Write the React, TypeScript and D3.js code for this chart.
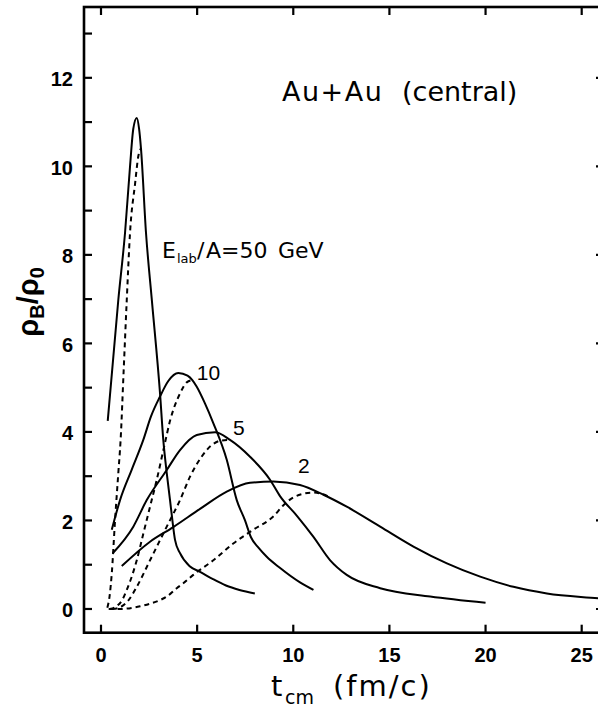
import React from "react";
import * as d3 from "d3";

type P = [number, number];

const xTicks = [0, 5, 10, 15, 20, 25];
const yLeftTicks = [0, 1, 2, 3, 4, 5, 6, 7, 8, 9, 10, 11, 12, 13];
const yLabelTicks = [0, 2, 4, 6, 8, 10, 12];

// E_lab/A = 50 GeV
const solid50: P[] = [
  [0.35, 4.25], [0.9, 6.98], [1.25, 8.5], [1.51, 10.0], [1.68, 10.85], [1.86, 11.09],
  [1.98, 10.85], [2.08, 10.4], [2.34, 8.5], [2.64, 7.0], [3.07, 4.87], [3.24, 3.82],
  [3.42, 3.07], [3.59, 2.46], [3.7, 2.05], [3.85, 1.56], [4.11, 1.26], [4.63, 0.96],
  [5.15, 0.84], [5.8, 0.68], [6.5, 0.53], [7.2, 0.43], [8.0, 0.35],
];
const dashed50: P[] = [
  [0.33, 0.03], [0.45, 0.3], [0.56, 0.8], [0.73, 2.0], [0.9, 3.07], [1.02, 3.82],
  [1.18, 5.4], [1.34, 6.98], [1.51, 8.5], [1.77, 9.6], [1.95, 10.25], [2.08, 10.4],
];

// 10 GeV
const solid10: P[] = [
  [0.56, 1.79], [0.99, 2.46], [1.6, 3.15], [2.2, 3.82], [2.6, 4.35], [3.07, 4.8],
  [3.5, 5.15], [4.02, 5.33], [4.5, 5.27], [4.75, 5.17], [4.98, 5.02], [5.4, 4.65],
  [5.84, 4.2], [6.54, 3.37], [7.06, 2.46], [7.49, 2.0], [7.8, 1.62], [8.2, 1.38],
  [8.62, 1.18], [9.3, 0.93], [10.35, 0.6], [11.05, 0.43],
];
const dashed10: P[] = [
  [0.45, 0.0], [0.8, 0.06], [1.1, 0.2], [1.34, 0.43], [1.51, 0.62], [1.86, 1.1],
  [2.2, 1.7], [2.55, 2.31], [2.9, 2.92], [3.3, 3.7], [3.59, 4.25], [4.11, 4.87],
  [4.46, 5.12], [4.75, 5.17],
];

// 5 GeV
const solid5: P[] = [
  [0.61, 1.26], [1.68, 1.86], [2.38, 2.46], [3.42, 3.14], [4.11, 3.59], [4.98, 3.93],
  [5.93, 3.99], [6.71, 3.82], [7.75, 3.44], [8.79, 2.92], [9.31, 2.55], [10.2, 2.1],
  [11.05, 1.63], [11.92, 1.1], [12.78, 0.77], [14.52, 0.47], [17.12, 0.28], [20.0, 0.14],
];
const dashed5: P[] = [
  [0.6, 0.0], [1.0, 0.04], [1.4, 0.18], [1.86, 0.5], [2.55, 1.1], [3.42, 1.86],
  [4.11, 2.46], [4.63, 2.99], [5.2, 3.42], [5.7, 3.68], [6.2, 3.8], [6.71, 3.82],
];

// 2 GeV
const solid2: P[] = [
  [1.08, 0.97], [2.55, 1.52], [3.76, 1.85], [5.15, 2.26], [6.54, 2.65], [7.75, 2.85],
  [8.96, 2.88], [10.35, 2.8], [11.57, 2.58], [12.78, 2.31], [14.52, 1.86], [16.25, 1.41],
  [17.99, 1.03], [19.72, 0.73], [21.45, 0.5], [23.19, 0.35], [25.86, 0.24], [26.1, 0.23],
];
const dashed2: P[] = [
  [0.4, 0.0], [1.0, 0.0], [1.68, 0.03], [2.03, 0.06], [2.55, 0.12], [3.07, 0.2],
  [3.42, 0.28], [3.94, 0.47], [4.28, 0.58], [4.8, 0.77], [5.84, 1.1], [6.88, 1.48],
  [7.92, 1.79], [8.96, 2.09], [9.5, 2.35], [10.0, 2.52], [10.5, 2.6], [11.0, 2.63],
  [11.5, 2.6], [11.9, 2.52],
];

const solidSeries = [solid50, solid10, solid5, solid2];
const dashedSeries = [dashed50, dashed10, dashed5, dashed2];

const curveLabels = ["10", "5", "2"];
const curveLabelAt: P[] = [[4.98, 5.17], [6.86, 3.93], [10.24, 3.07]];

export default function App() {
  const W = 598;
  const H = 708;
  const left = 84, right = 604, top = 7, bottom = 632.7;
  const x = d3.scaleLinear().domain([-0.884, 26.16]).range([left, right]);
  const y = d3.scaleLinear().domain([-0.536, 13.6]).range([bottom, top]);
  const line = d3
    .line<P>()
    .x((d) => x(d[0]))
    .y((d) => y(d[1]))
    .curve(d3.curveMonotoneX);

  const tickFont = "'Liberation Sans', Arial, sans-serif";
  const textFont = "'DejaVu Sans', 'Liberation Sans', sans-serif";
  const tl = 8;

  return (
    <svg
      width={W}
      height={H}
      style={{ position: "absolute", left: 0, top: 0, background: "#fff" }}
    >
      <rect x={0} y={0} width={W} height={H} fill="#fff" />
      <defs>
        <clipPath id="plot">
          <rect x={left} y={top} width={right - left} height={bottom - top} />
        </clipPath>
      </defs>

      {/* frame */}
      <rect
        x={left}
        y={top}
        width={right - left}
        height={bottom - top}
        fill="none"
        stroke="#000"
        strokeWidth={2.6}
      />

      {/* left ticks */}
      {yLeftTicks.map((v) => (
        <line key={"yl" + v} x1={left} x2={left + tl} y1={y(v)} y2={y(v)} stroke="#000" strokeWidth={2.2} />
      ))}
      {/* right ticks */}
      {yLabelTicks.map((v) => (
        <line key={"yr" + v} x1={right} x2={right - tl} y1={y(v)} y2={y(v)} stroke="#000" strokeWidth={2.2} />
      ))}
      {/* bottom & top ticks */}
      {xTicks.map((v) => (
        <g key={"xt" + v}>
          <line x1={x(v)} x2={x(v)} y1={bottom} y2={bottom - tl} stroke="#000" strokeWidth={2.2} />
          <line x1={x(v)} x2={x(v)} y1={top} y2={top + tl} stroke="#000" strokeWidth={2.2} />
        </g>
      ))}

      {/* tick labels */}
      {yLabelTicks.map((v) => (
        <text
          key={"yll" + v}
          x={73}
          y={y(v) + 8.5}
          textAnchor="end"
          fontFamily={tickFont}
          fontWeight="bold"
          fontSize={20}
        >
          {v}
        </text>
      ))}
      {xTicks.map((v) => (
        <text
          key={"xll" + v}
          x={x(v)}
          y={662}
          textAnchor="middle"
          fontFamily={tickFont}
          fontWeight="bold"
          fontSize={20}
        >
          {v}
        </text>
      ))}

      {/* curves */}
      <g clipPath="url(#plot)" fill="none" stroke="#000">
        {solidSeries.map((s, i) => (
          <path key={"s" + i} d={line(s) || ""} strokeWidth={2} />
        ))}
        {dashedSeries.map((s, i) => (
          <path key={"d" + i} d={line(s) || ""} strokeWidth={2} strokeDasharray="5,4" />
        ))}
      </g>

      {/* curve labels */}
      {curveLabels.map((l, i) => (
        <text
          key={"cl" + i}
          x={x(curveLabelAt[i][0])}
          y={y(curveLabelAt[i][1])}
          fontFamily={tickFont}
          fontSize={21}
        >
          {l}
        </text>
      ))}

      {/* E_lab/A=50 GeV */}
      <text fontFamily={textFont} fontSize={22} y={258}>
        <tspan x={162}>E</tspan>
        <tspan x={177} y={263} fontSize={13}>lab</tspan>
        <tspan x={197} y={258}>/</tspan>
        <tspan x={206}>A=50</tspan>
        <tspan x={278}>GeV</tspan>
      </text>

      {/* Au+Au (central) */}
      <text fontFamily={textFont} fontSize={27} y={101}>
        <tspan x={282} letterSpacing={1.5}>Au+Au</tspan>
        <tspan x={402}>(central)</tspan>
      </text>

      {/* x axis title */}
      <text fontFamily={textFont} fontSize={29} y={696}>
        <tspan x={271}>t</tspan>
        <tspan x={285} y={704} fontSize={19}>cm</tspan>
        <tspan x={333} y={696} letterSpacing={2}>(fm/c)</tspan>
      </text>

      {/* y axis title */}
      <text
        transform="translate(38,302) rotate(-90)"
        textAnchor="middle"
        fontFamily={tickFont}
        fontWeight="bold"
        fontSize={29}
      >
        <tspan>ρ</tspan>
        <tspan fontSize={20} dy={6}>B</tspan>
        <tspan dy={-6}>/ρ</tspan>
        <tspan fontSize={20} dy={6}>0</tspan>
      </text>
    </svg>
  );
}
